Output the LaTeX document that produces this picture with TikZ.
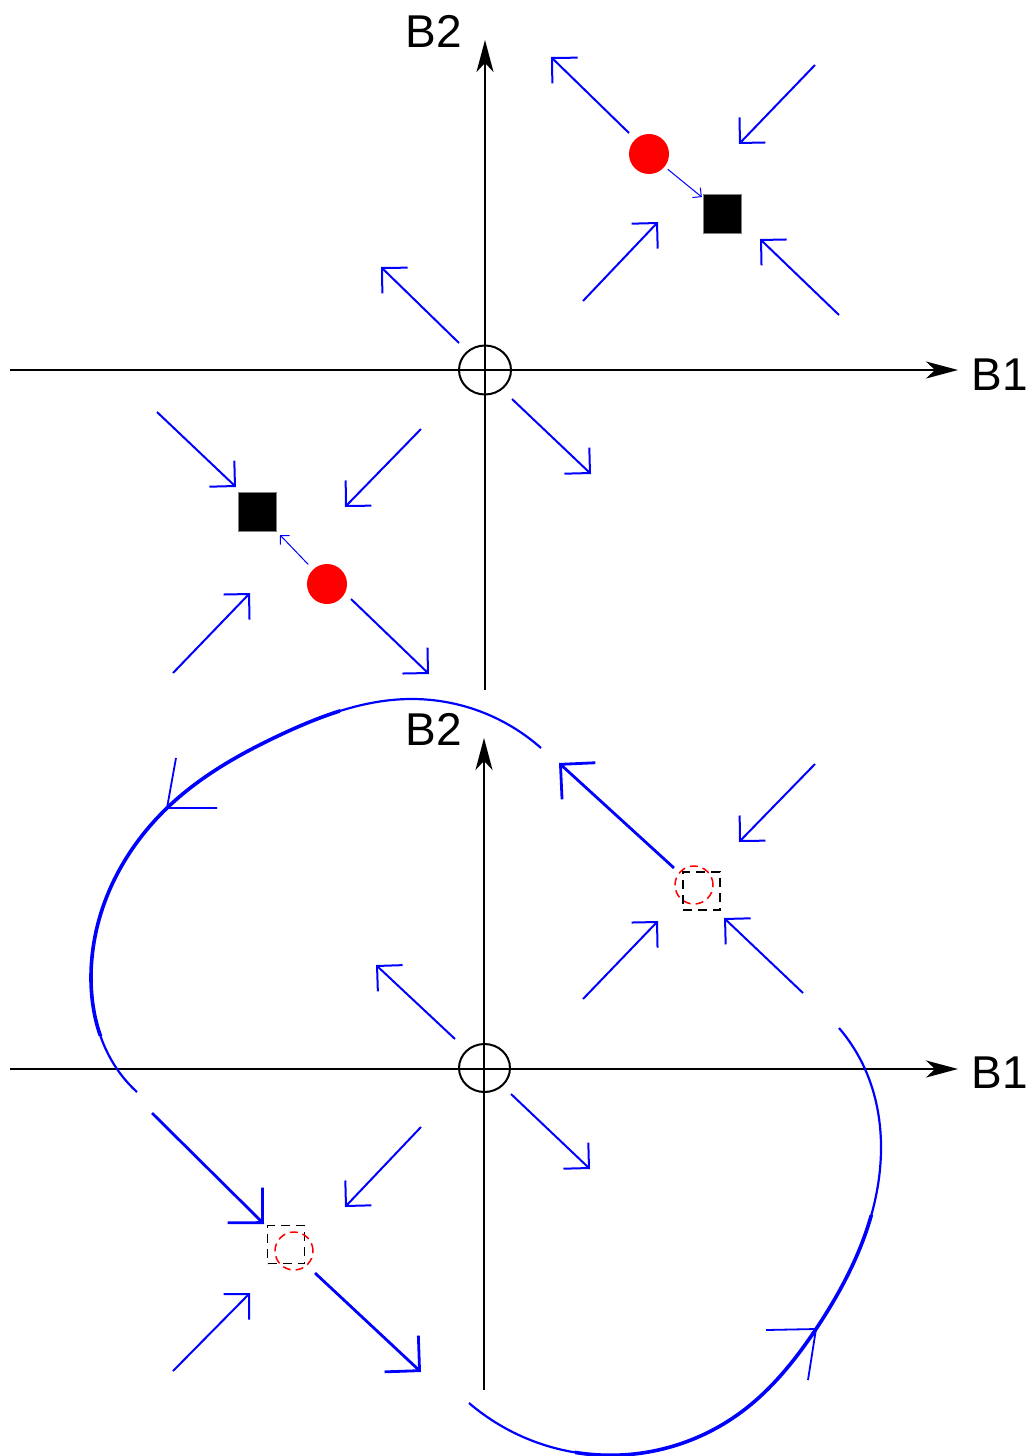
\documentclass[tikz,border=0pt]{standalone}
\usepackage{fontspec}
\setmainfont{Liberation Sans}
\usetikzlibrary{arrows.meta,hobby}
\begin{document}
\begin{tikzpicture}[x=1pt,y=-1pt,
  axis/.style={line width=2pt, -{Stealth[length=32pt,width=17pt,inset=9pt]}},
  vec/.style={blue, line width=2pt, -{Straight Barb[angle=90:25.5pt]}},
  bigvec/.style={blue, line width=2.8pt, -{Straight Barb[angle=90:35pt]}},
  tinyvec/.style={blue, line width=1pt, -{Straight Barb[angle=90:9pt]}},
  lbl/.style={font=\fontsize{46}{46}\selectfont, inner sep=0pt},
  orbit/.style={blue, line width=2.2pt, line cap=butt, use Hobby shortcut},
  thickorbit/.style={orbit, line width=3.6pt},
  barb/.style={blue, line width=1.8pt},
  stable/.style={fill=black, draw=gray, line width=0.8pt, minimum width=38pt, minimum height=39pt, inner sep=0pt},
  unstable/.style={circle, fill=red, minimum size=40pt, inner sep=0pt},
  dsq/.style={draw=black, dash pattern=on 9pt off 6pt, line width=1.8pt, minimum width=37pt, minimum height=38pt, inner sep=0pt},
  dcirc/.style={circle, draw=red, dash pattern=on 8pt off 5pt, line width=1.5pt, minimum size=38pt, inner sep=0pt},
  origin/.style={line width=2pt}
]
\useasboundingbox (0,0) rectangle (1033,1456);

% ===== Top panel =====
\draw[axis] (10,370) -- (958,370);
\draw[axis] (485,690) -- (485,40);
\node[lbl] (tb2) at (433.5,31) {B2};
\node[lbl] (tb1) at (1000,375) {B1};
\draw[origin] (485,370) ellipse [x radius=26pt, y radius=24.5pt];

\node[unstable] (r1) at (649,154) {};
\node[stable] (s1) at (722,213.5) {};
\node[stable] (s2) at (257.5,511.5) {};
\node[unstable] (r2) at (327,584) {};
\draw[tinyvec, shorten <=4pt, shorten >=1pt] (r1) -- (s1);
\draw[tinyvec, shorten <=7pt, shorten >=5pt] (r2) -- (s2);

\draw[vec] (629,133) -- (551,57);
\draw[vec] (815,65) -- (739,144);
\draw[vec] (583,301) -- (658,222);
\draw[vec] (839,315) -- (760,239);
\draw[vec] (459,343) -- (381,267);
\draw[vec] (512,399) -- (591,474);
\draw[vec] (157,412) -- (236,487);
\draw[vec] (421,429) -- (345,507);
\draw[vec] (173,673) -- (250,593);
\draw[vec] (351,599) -- (429,674);

% ===== Bottom panel =====
\draw[axis] (10,1069) -- (958,1069);
\draw[axis] (484,1390) -- (484,738);
\node[lbl] (bb2) at (434,729) {B2};
\node[lbl] (bb1) at (1000,1073) {B1};
\draw[origin] (484.5,1068) ellipse [x radius=25.5pt, y radius=24pt];

\node[dcirc] (u1) at (694,885) {};
\node[dsq] (v1) at (701.5,891) {};
\node[dsq] (v2) at (286,1244.5) {};
\node[dcirc] (u2) at (294,1251) {};

\draw[bigvec] (674,868) -- (559,763);
\draw[vec] (815,764) -- (739,842);
\draw[vec] (583,999) -- (658,921);
\draw[vec] (803,993) -- (724,918);
\draw[vec] (455,1039) -- (376,965);
\draw[vec] (511,1094) -- (590,1169);
\draw[bigvec] (152,1113) -- (264,1224);
\draw[vec] (421,1127) -- (345,1207);
\draw[vec] (173,1371) -- (250,1293);
\draw[bigvec] (315,1273) -- (421,1372);

% heteroclinic orbits
\coordinate (c1) at (167,808);
\coordinate (c2) at (816,1329);
\draw[orbit] (541,748) .. (410,699) .. (280,735) .. (c1) .. (91,978) .. (117,1069) .. (137,1092);
\begin{scope}
  \clip (0,690) rectangle (340,1035);
  \draw[thickorbit] (541,748) .. (410,699) .. (280,735) .. (c1) .. (91,978) .. (117,1069) .. (137,1092);
\end{scope}
\draw[orbit] (469,1403) .. (587,1454) .. (740,1413) .. (c2) .. (881,1150) .. (865,1069) .. (839,1028);
\begin{scope}
  \clip (575,1215) rectangle (900,1456);
  \draw[thickorbit] (469,1403) .. (587,1454) .. (740,1413) .. (c2) .. (881,1150) .. (865,1069) .. (839,1028);
\end{scope}

\draw[barb] (176,758) -- (c1) -- (217,808);
\draw[barb] (766,1330) -- (c2) -- (808,1380);
\end{tikzpicture}
\end{document}
